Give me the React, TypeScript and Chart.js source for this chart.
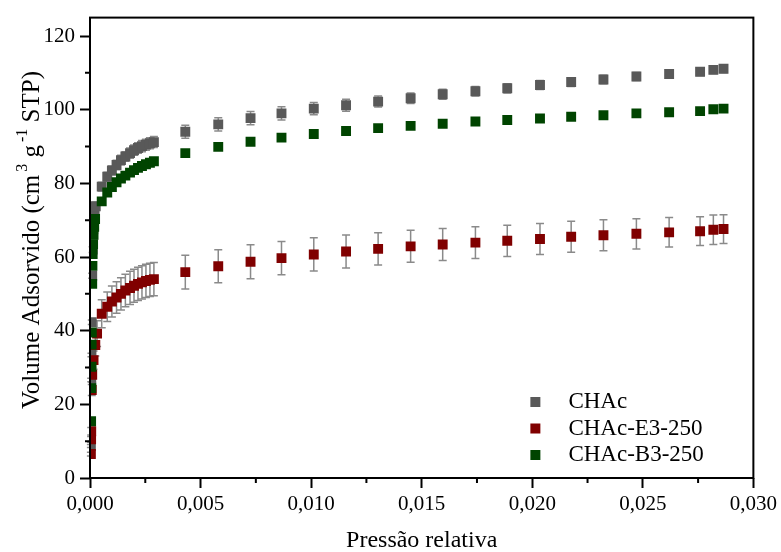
import React, { useEffect, useRef } from "react";
import { Chart, registerables } from "chart.js";

Chart.register(...registerables);

// ---------------- data ----------------
const seriesLabels = ["CHAc", "CHAc-E3-250", "CHAc-B3-250"];

const chacPressure = [
  0.00004, 0.000055, 0.000065, 0.00008, 0.0001, 0.00012, 0.00015, 0.00018, 0.00021, 0.00026,
  0.00053, 0.00078, 0.00099, 0.0012, 0.0014, 0.0016, 0.00181, 0.00199, 0.00217, 0.00235, 0.00253, 0.00271, 0.00289,
  0.00431, 0.0058, 0.00726, 0.00866, 0.01012, 0.01158, 0.01303, 0.0145, 0.01595, 0.01743, 0.01887, 0.02035,
  0.02176, 0.02322, 0.02471, 0.02619, 0.02759, 0.02819, 0.02865,
];
const chacVolume = [
  8.7, 26.6, 33.4, 42.3, 54.9, 62.0, 67.5, 70.8, 72.6, 73.8,
  79.1, 81.8, 83.5, 85.0, 86.3, 87.3, 88.2, 89.0, 89.6, 90.1, 90.5, 90.9, 91.2,
  94.0, 96.0, 97.7, 99.0, 100.3, 101.2, 102.2, 103.1, 104.2, 105.0, 105.8, 106.7,
  107.5, 108.2, 109.0, 109.7, 110.3, 110.8, 111.1,
];
const chacError = [
  0.4, 0.5, 0.5, 0.6, 0.7, 0.8, 0.9, 1.0, 1.0, 1.1,
  1.2, 1.2, 1.2, 1.3, 1.3, 1.3, 1.4, 1.4, 1.4, 1.5, 1.5, 1.5, 1.5,
  1.75, 1.8, 1.8, 1.8, 1.65, 1.6, 1.5, 1.4, 1.35, 1.3, 1.25, 1.2,
  1.2, 1.15, 1.1, 1.1, 1.05, 1.0, 1.0,
];

const e3Pressure = [
  0.00004, 0.00005, 0.000055, 0.00008, 0.0001, 0.00016, 0.00024, 0.00032,
  0.00053, 0.00078, 0.00099, 0.0012, 0.0014, 0.0016, 0.00181, 0.00199, 0.00217, 0.00235, 0.00253, 0.00271, 0.00289,
  0.00431, 0.0058, 0.00726, 0.00866, 0.01012, 0.01158, 0.01303, 0.0145, 0.01595, 0.01743, 0.01887, 0.02035,
  0.02176, 0.02322, 0.02471, 0.02619, 0.02759, 0.02819, 0.02865,
];
const e3Volume = [
  6.5, 10.5, 12.7, 23.9, 28.0, 32.0, 36.1, 39.2,
  44.6, 46.5, 47.9, 49.0, 50.0, 50.9, 51.6, 52.2, 52.7, 53.1, 53.5, 53.8, 54.0,
  55.9, 57.5, 58.7, 59.7, 60.7, 61.5, 62.2, 62.9, 63.4, 63.9, 64.4, 64.9,
  65.5, 65.9, 66.3, 66.7, 67.0, 67.4, 67.6,
];
const e3Error = [
  0.5, 0.8, 1.0, 1.5, 2.0, 2.5, 3.0, 3.5,
  3.8, 4.0, 4.2, 4.3, 4.4, 4.4, 4.5, 4.5, 4.5, 4.5, 4.5, 4.5, 4.5,
  4.6, 4.5, 4.6, 4.5, 4.5, 4.5, 4.4, 4.35, 4.35, 4.3, 4.25, 4.2,
  4.2, 4.2, 4.1, 4.0, 3.9, 4.0, 3.9,
];

const b3Pressure = [
  0.00005, 0.00006, 0.00007, 0.000075, 0.00008, 0.0001, 0.00011, 0.00012, 0.00014, 0.00016, 0.00019, 0.00023,
  0.00053, 0.00078, 0.00099, 0.0012, 0.0014, 0.0016, 0.00181, 0.00199, 0.00217, 0.00235, 0.00253, 0.00271, 0.00289,
  0.00431, 0.0058, 0.00726, 0.00866, 0.01012, 0.01158, 0.01303, 0.0145, 0.01595, 0.01743, 0.01887, 0.02035,
  0.02176, 0.02322, 0.02471, 0.02619, 0.02759, 0.02819, 0.02865,
];
const b3Volume = [
  15.4, 24.4, 30.2, 36.2, 39.5, 52.7, 57.6, 60.8, 63.5, 66.0, 68.2, 70.3,
  75.1, 77.5, 79.0, 80.3, 81.3, 82.1, 82.9, 83.6, 84.2, 84.7, 85.2, 85.6, 86.0,
  88.2, 89.9, 91.3, 92.4, 93.4, 94.2, 95.0, 95.6, 96.2, 96.8, 97.2, 97.6,
  98.1, 98.5, 99.0, 99.3, 99.6, 100.1, 100.3,
];

const xMinorTicks = [0.0025, 0.0075, 0.0125, 0.0175, 0.0225, 0.0275];
const yMinorTicks = [10, 30, 50, 70, 90, 110];

const xTitle = "Pressão relativa";
const yTitleParts: { t: string; sup: boolean }[] = [
  { t: "Volume Adsorvido (cm", sup: false },
  { t: "3", sup: true },
  { t: " g", sup: false },
  { t: "-1", sup: true },
  { t: " STP)", sup: false },
];

const colors = ["#595959", "#800000", "#004400"];
const FONT = "'Liberation Serif', 'Times New Roman', serif";

const toPoints = (px: number[], vy: number[]) => px.map((x, i) => ({ x, y: vy[i] }));

const errorSets: (number[] | null)[] = [chacError, e3Error, null];

const errorBarPlugin = {
  id: "errorBars",
  beforeDatasetsDraw(chart: any) {
    const { ctx, scales } = chart;
    const xs = scales.x;
    const ys = scales.y;
    ctx.save();
    ctx.strokeStyle = "#8a8a8a";
    ctx.lineWidth = 1.5;
    chart.data.datasets.forEach((ds: any, di: number) => {
      const errs = errorSets[di];
      if (!errs) return;
      ds.data.forEach((p: any, i: number) => {
        const e = errs[i];
        const px = xs.getPixelForValue(p.x);
        const y1 = ys.getPixelForValue(p.y + e);
        const y2 = ys.getPixelForValue(p.y - e);
        ctx.beginPath();
        ctx.moveTo(px, y1);
        ctx.lineTo(px, y2);
        ctx.moveTo(px - 4, y1);
        ctx.lineTo(px + 4, y1);
        ctx.moveTo(px - 4, y2);
        ctx.lineTo(px + 4, y2);
        ctx.stroke();
      });
    });
    ctx.restore();
  },
};

const decorPlugin = {
  id: "decor",
  afterDraw(chart: any) {
    const { ctx, chartArea, scales } = chart;
    const { left, top, right, bottom } = chartArea;
    ctx.save();
    // frame
    ctx.strokeStyle = "#000";
    ctx.lineWidth = 2;
    ctx.strokeRect(left, top, right - left, bottom - top);
    // minor ticks
    ctx.lineWidth = 2;
    ctx.beginPath();
    xMinorTicks.forEach((v) => {
      const px = scales.x.getPixelForValue(v);
      ctx.moveTo(px, bottom);
      ctx.lineTo(px, bottom + 5);
    });
    yMinorTicks.forEach((v) => {
      const py = scales.y.getPixelForValue(v);
      ctx.moveTo(left, py);
      ctx.lineTo(left - 5, py);
    });
    ctx.stroke();

    // legend
    const lx = right - 218;
    const ly = bottom - 76;
    ctx.font = `23px ${FONT}`;
    ctx.textBaseline = "middle";
    ctx.textAlign = "left";
    chart.data.datasets.forEach((ds: any, i: number) => {
      const cy = ly + i * 26.5;
      ctx.fillStyle = ds.backgroundColor;
      ctx.fillRect(lx - 5, cy - 5, 10, 10);
      ctx.fillStyle = "#000";
      ctx.fillText(ds.label, lx + 33, cy);
    });

    // y title with superscripts
    const big = `25px ${FONT}`;
    const small = `16px ${FONT}`;
    let total = 0;
    yTitleParts.forEach((p) => {
      ctx.font = p.sup ? small : big;
      total += ctx.measureText(p.t).width + (p.sup ? 3 : 0);
    });
    ctx.translate(32, top + (bottom - top) * 0.483);
    ctx.rotate(-Math.PI / 2);
    ctx.textAlign = "left";
    ctx.textBaseline = "middle";
    ctx.fillStyle = "#000";
    let x = -total / 2;
    yTitleParts.forEach((p) => {
      ctx.font = p.sup ? small : big;
      if (p.sup) x += 3;
      ctx.fillText(p.t, x, p.sup ? -9 : 0);
      x += ctx.measureText(p.t).width;
    });
    ctx.restore();
  },
};

export default function App() {
  const ref = useRef<HTMLCanvasElement | null>(null);

  useEffect(() => {
    if (!ref.current) return;
    const pointsets = [
      toPoints(chacPressure, chacVolume),
      toPoints(e3Pressure, e3Volume),
      toPoints(b3Pressure, b3Volume),
    ];
    const chart = new Chart(ref.current, {
      type: "scatter",
      data: {
        datasets: pointsets.map((data, i) => ({
          label: seriesLabels[i],
          data,
          backgroundColor: colors[i],
          borderColor: colors[i],
          borderWidth: 0,
          pointStyle: "rect",
          pointRadius: 7,
          pointHoverRadius: 7,
          showLine: false,
          order: 3 - i,
        })),
      },
      options: {
        responsive: false,
        devicePixelRatio: 1,
        animation: false,
        events: [],
        layout: { padding: { top: 13, right: 27, left: 0, bottom: 0 } },
        plugins: {
          legend: { display: false },
          tooltip: { enabled: false },
        },
        scales: {
          x: {
            type: "linear",
            min: 0,
            max: 0.03,
            afterFit: (s: any) => {
              s.height = 74;
            },
            border: { display: false },
            grid: {
              drawOnChartArea: false,
              drawTicks: true,
              tickLength: 10,
              tickColor: "#000",
              tickWidth: 2,
            },
            ticks: {
              stepSize: 0.005,
              includeBounds: false,
              maxRotation: 0,
              autoSkip: false,
              padding: 4,
              color: "#000",
              font: { family: FONT, size: 21 },
              callback: (v: any) => Number(v).toFixed(3).replace(".", ","),
            },
            title: {
              display: true,
              text: xTitle,
              color: "#000",
              font: { family: FONT, size: 24, lineHeight: 1 },
              padding: { top: 0, bottom: -1 },
            },
          },
          y: {
            type: "linear",
            min: 0,
            max: 125,
            afterFit: (s: any) => {
              s.width = 90;
            },
            border: { display: false },
            grid: {
              drawOnChartArea: false,
              drawTicks: true,
              tickLength: 10,
              tickColor: "#000",
              tickWidth: 2,
            },
            ticks: {
              stepSize: 20,
              includeBounds: false,
              padding: 5,
              color: "#000",
              font: { family: FONT, size: 21 },
            },
          },
        },
      },
      plugins: [errorBarPlugin, decorPlugin],
    } as any);
    return () => chart.destroy();
  }, []);

  return (
    <div style={{ position: "fixed", left: 0, top: 0, width: 781, height: 552, background: "#fff" }}>
      <canvas ref={ref} width={781} height={552} style={{ width: 781, height: 552 }} />
    </div>
  );
}
